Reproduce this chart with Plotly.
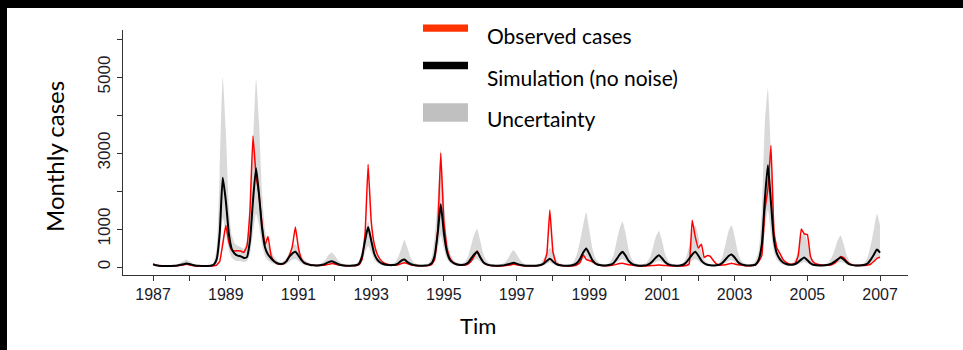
import plotly.graph_objects as go
import pandas as pd

# ---------------- data (monthly, Jan 1987 .. Jan 2007) ----------------
observed = [
    80, 50, 35, 30, 30, 30, 30, 30, 35, 45, 55, 70,            # 1987
    55, 40, 30, 25, 25, 25, 25, 25, 30, 50, 150, 600,          # 1988
    1100, 650, 450, 420, 430, 420, 380, 550, 1500, 3450, 2400, 1900,  # 1989
    1100, 600, 800, 300, 150, 90, 70, 80, 150, 300, 550, 1050, # 1990
    500, 200, 110, 80, 60, 45, 40, 40, 45, 55, 70, 90,         # 1991
    80, 60, 45, 40, 35, 35, 35, 40, 60, 200, 900, 2700,        # 1992
    1200, 600, 350, 200, 120, 80, 60, 50, 50, 60, 90, 110,     # 1993
    90, 60, 45, 40, 35, 35, 35, 40, 70, 200, 1000, 3000,       # 1994
    1200, 500, 250, 130, 80, 55, 45, 50, 80, 150, 280, 420,    # 1995
    260, 130, 70, 45, 35, 30, 30, 30, 35, 45, 55, 70,          # 1996
    60, 45, 35, 30, 30, 30, 30, 35, 50, 100, 350, 1500,        # 1997
    400, 100, 60, 40, 35, 30, 30, 35, 60, 120, 320, 200,       # 1998
    170, 140, 100, 60, 40, 35, 35, 40, 50, 70, 90, 100,        # 1999
    80, 60, 50, 40, 30, 30, 30, 30, 35, 40, 45, 50,            # 2000
    45, 40, 35, 30, 30, 30, 30, 30, 40, 80, 1230, 800,         # 2001
    500, 600, 250, 300, 280, 170, 80, 50, 50, 60, 80, 100,     # 2002
    80, 60, 50, 40, 35, 35, 40, 60, 150, 300, 1500, 2050,      # 2003
    3200, 900, 500, 350, 200, 120, 80, 70, 100, 300, 1000, 870,  # 2004
    850, 280, 130, 80, 60, 50, 50, 50, 60, 100, 180, 280,      # 2005
    250, 150, 80, 50, 40, 40, 40, 40, 50, 80, 150, 230,        # 2006
    260,                                                       # 2007
]

simulation = [
    70, 45, 35, 30, 28, 28, 28, 32, 40, 55, 75, 90,
    80, 55, 40, 32, 30, 30, 30, 35, 60, 200, 900, 2350,
    1750, 870, 480, 350, 300, 280, 240, 260, 700, 1740, 2600, 1900,
    1000, 500, 330, 230, 150, 100, 80, 90, 150, 270, 360, 400,
    300, 180, 110, 75, 55, 45, 40, 45, 60, 90, 130, 150,
    120, 80, 55, 42, 36, 35, 38, 45, 90, 280, 700, 1050,
    700, 350, 200, 120, 80, 60, 50, 50, 60, 100, 170, 200,
    130, 80, 55, 42, 36, 35, 38, 50, 100, 300, 900, 1650,
    900, 400, 200, 120, 80, 60, 55, 65, 110, 220, 330, 400,
    260, 130, 75, 50, 40, 35, 35, 40, 50, 70, 90, 110,
    90, 60, 45, 36, 33, 32, 33, 40, 55, 90, 160, 220,
    150, 85, 55, 42, 36, 35, 40, 60, 110, 220, 380, 490,
    350, 180, 100, 60, 45, 40, 45, 60, 100, 200, 320, 400,
    300, 160, 90, 55, 40, 35, 40, 50, 90, 160, 250, 310,
    230, 130, 75, 50, 40, 35, 40, 60, 120, 220, 330, 400,
    300, 170, 100, 60, 45, 40, 45, 60, 110, 200, 290, 330,
    250, 140, 80, 55, 42, 40, 45, 70, 200, 600, 1800, 2680,
    1700, 700, 350, 200, 120, 80, 60, 60, 80, 130, 200, 250,
    180, 100, 60, 45, 40, 40, 45, 60, 90, 140, 200, 250,
    200, 120, 70, 50, 40, 40, 45, 60, 100, 200, 330, 460,
    380,
]

upper = [
    100, 70, 50, 40, 38, 38, 40, 50, 70, 110, 160, 200,
    150, 90, 60, 45, 40, 40, 42, 55, 120, 500, 2500, 5000,
    3600, 1600, 850, 620, 560, 520, 480, 700, 1600, 3200, 4950, 3800,
    1900, 950, 620, 420, 270, 170, 130, 150, 230, 380, 520, 600,
    450, 300, 190, 130, 90, 70, 70, 80, 120, 200, 320, 380,
    300, 180, 110, 75, 60, 55, 60, 80, 180, 450, 850, 1200,
    900, 500, 300, 180, 120, 90, 80, 90, 130, 270, 500, 720,
    500, 250, 130, 85, 65, 60, 65, 100, 250, 800, 1800, 3100,
    1800, 800, 400, 210, 130, 100, 100, 140, 280, 550, 850, 1000,
    700, 350, 180, 100, 70, 60, 60, 70, 110, 200, 350, 450,
    340, 200, 120, 75, 60, 55, 60, 75, 120, 220, 380, 500,
    450, 230, 120, 80, 60, 60, 80, 150, 350, 700, 1100, 1450,
    1000, 500, 250, 130, 80, 70, 80, 140, 300, 650, 1000, 1200,
    900, 450, 220, 120, 80, 70, 80, 120, 250, 500, 800, 950,
    700, 350, 180, 100, 70, 60, 70, 110, 250, 550, 950, 1100,
    800, 400, 200, 110, 80, 70, 80, 120, 280, 600, 950, 1100,
    800, 400, 200, 110, 80, 70, 90, 180, 450, 1500, 3800, 4700,
    3000, 1200, 500, 300, 180, 120, 100, 110, 200, 450, 800, 900,
    650, 330, 170, 110, 80, 70, 80, 120, 250, 450, 700, 830,
    600, 300, 150, 90, 70, 60, 70, 120, 280, 600, 1000, 1400,
    1100,
]

lower = [
    45, 30, 22, 18, 17, 17, 18, 20, 25, 32, 40, 50,
    45, 32, 24, 20, 18, 18, 18, 22, 30, 80, 400, 1300,
    900, 450, 250, 180, 160, 150, 130, 150, 350, 900, 1400, 1100,
    550, 270, 170, 120, 80, 55, 45, 50, 80, 140, 190, 210,
    160, 95, 60, 40, 30, 25, 22, 25, 32, 50, 70, 80,
    65, 45, 30, 24, 20, 20, 21, 25, 50, 150, 380, 550,
    380, 190, 110, 65, 45, 33, 28, 28, 33, 55, 90, 110,
    70, 45, 30, 24, 20, 20, 21, 28, 55, 160, 480, 850,
    480, 210, 110, 65, 45, 33, 30, 35, 60, 120, 180, 210,
    140, 70, 40, 28, 22, 20, 20, 22, 28, 38, 50, 60,
    50, 33, 25, 20, 18, 18, 18, 22, 30, 50, 85, 120,
    80, 45, 30, 23, 20, 20, 22, 33, 60, 120, 200, 260,
    190, 100, 55, 33, 25, 22, 25, 33, 55, 110, 170, 210,
    160, 85, 50, 30, 22, 20, 22, 28, 50, 85, 135, 165,
    125, 70, 40, 28, 22, 20, 22, 33, 65, 120, 175, 210,
    160, 90, 55, 33, 25, 22, 25, 33, 60, 110, 155, 175,
    135, 75, 45, 30, 23, 22, 25, 38, 110, 320, 950, 1500,
    900, 380, 190, 110, 65, 45, 33, 33, 45, 70, 110, 135,
    100, 55, 33, 25, 22, 22, 25, 33, 50, 75, 110, 135,
    110, 65, 38, 28, 22, 22, 25, 33, 55, 110, 180, 250,
    210,
]

months = pd.date_range("1987-01-01", periods=len(observed), freq="MS")

x_tick_years = list(range(1987, 2008))
x_tick_labels = ["1987", "", "1989", "", "1991", "", "1993", "", "1995", "", "1997", "",
                 "1999", "", "2001", "", "2003", "", "2005", "", "2007"]
y_tick_vals = [0, 1000, 2000, 3000, 4000, 5000, 6000]
y_tick_labels = ["0", "1000", "", "3000", "", "5000", ""]

legend_labels = ["Observed cases", "Simulation (no noise)", "Uncertainty"]
legend_colors = ["#ff3300", "#000000", "#c0c0c0"]

# ---------------- figure ----------------
W, H = 963, 350
ML, MR, MT, MB = 123, 55, 30, 75
PW, PH = W - ML - MR, H - MT - MB


def px_x(px):
    return (px - ML) / PW


def px_y(py):
    return (H - MB - py) / PH


fig = go.Figure()

fig.add_trace(go.Scatter(x=months, y=lower, mode="lines",
                         line=dict(width=0, color="#d9d9d9", shape="spline", smoothing=0.5),
                         hoverinfo="skip", showlegend=False))
fig.add_trace(go.Scatter(x=months, y=upper, mode="lines",
                         line=dict(width=0, color="#d9d9d9", shape="spline", smoothing=0.5),
                         fill="tonexty", fillcolor="#d9d9d9", showlegend=False,
                         name="Uncertainty"))
fig.add_trace(go.Scatter(x=months, y=observed, mode="lines",
                         line=dict(color="#ff0000", width=1.5, shape="spline", smoothing=0.3),
                         showlegend=False, name="Observed cases"))
fig.add_trace(go.Scatter(x=months, y=simulation, mode="lines",
                         line=dict(color="#000000", width=2, shape="spline", smoothing=0.5),
                         showlegend=False, name="Simulation (no noise)"))

x_tick_font = dict(family="Liberation Sans, Arial, sans-serif", size=16, color="#1a1a28")
y_tick_font = dict(family="Liberation Sans, Arial, sans-serif", size=17, color="#1a1a28")

fig.update_layout(
    width=W, height=H, autosize=False,
    margin=dict(l=ML, r=MR, t=MT, b=MB, pad=0),
    paper_bgcolor="white", plot_bgcolor="white",
    showlegend=False,
    xaxis=dict(
        type="date",
        range=["1986-03-05", "2007-10-09"],
        tickmode="array",
        tickvals=[pd.Timestamp(f"{y}-01-01") for y in x_tick_years],
        ticktext=x_tick_labels,
        ticks="outside", ticklen=5, tickwidth=1, tickcolor="#333333",
        showline=True, linecolor="#333333", linewidth=1,
        showgrid=False, zeroline=False, tickfont=x_tick_font,
    ),
    yaxis=dict(
        range=[-210, 6237],
        tickmode="array", tickvals=y_tick_vals, ticktext=y_tick_labels,
        tickangle=-90,
        ticks="outside", ticklen=5, tickwidth=1, tickcolor="#333333",
        showline=True, linecolor="#333333", linewidth=1,
        showgrid=False, zeroline=False, tickfont=y_tick_font,
    ),
)

title_font = dict(family="Lato, Calibri, sans-serif", color="#000000")

annotations = [
    dict(text="Monthly cases", x=px_x(54), y=px_y(157), xref="paper", yref="paper",
         textangle=-90, showarrow=False, xanchor="center", yanchor="middle",
         font=dict(size=24, **title_font)),
    dict(text="Tim", x=px_x(478), y=px_y(325), xref="paper", yref="paper",
         showarrow=False, xanchor="center", yanchor="middle",
         font=dict(size=22, **title_font)),
]
legend_text_y = [35, 77, 118]
for lab, ty in zip(legend_labels, legend_text_y):
    annotations.append(dict(text=lab, x=px_x(485), y=px_y(ty), xref="paper", yref="paper",
                            showarrow=False, xanchor="left", yanchor="middle",
                            font=dict(size=21, **title_font)))
fig.update_layout(annotations=annotations)

legend_boxes = [(24.5, 31.7), (61.7, 69.3), (103.3, 121.7)]
shapes = []
for col, (y0, y1) in zip(legend_colors, legend_boxes):
    shapes.append(dict(type="rect", xref="paper", yref="paper",
                       x0=px_x(423), x1=px_x(468), y0=px_y(y1), y1=px_y(y0),
                       fillcolor=col, line=dict(width=0)))
# black frame strips (top and left) of the original screenshot
shapes.append(dict(type="rect", xref="paper", yref="paper",
                   x0=px_x(0), x1=px_x(7), y0=px_y(H), y1=px_y(0),
                   fillcolor="#000000", line=dict(width=0), layer="above"))
shapes.append(dict(type="rect", xref="paper", yref="paper",
                   x0=px_x(0), x1=px_x(W), y0=px_y(8), y1=px_y(0),
                   fillcolor="#000000", line=dict(width=0), layer="above"))
fig.update_layout(shapes=shapes)

fig.write_html("out.html")
